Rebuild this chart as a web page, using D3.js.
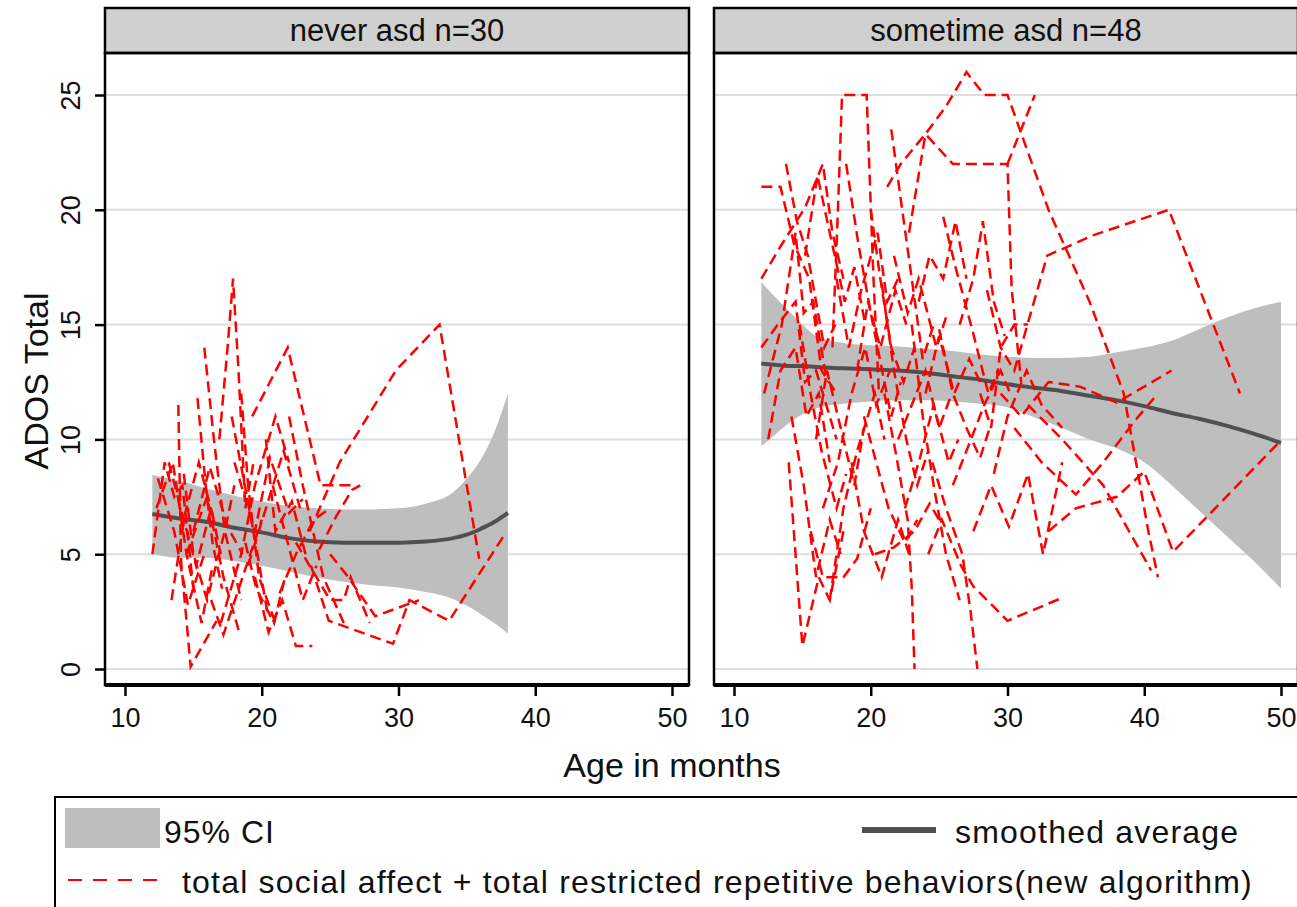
<!DOCTYPE html>
<html>
<head>
<meta charset="utf-8">
<script src="https://cdn.jsdelivr.net/npm/d3@7"></script>
<style>
  body { margin: 0; background: #fff; }
  svg { display: block; font-family: "Liberation Sans", Arial, sans-serif; }
</style>
</head>
<body>
<svg id="chart" width="1297" height="907"></svg>
<script>
// ---- data ----
var panelNames = ["never asd n=30", "sometime asd n=48"];
var ageTicks = [10, 20, 30, 40, 50];
var scoreTicks = [0, 5, 10, 15, 20, 25];

// smoothed average and 95% CI, never asd
var neverAge  = [12, 14, 16, 18, 20, 22, 24, 26, 28, 30, 32, 34, 35, 36, 37, 38];
var neverMean = [6.75, 6.55, 6.4, 6.15, 5.95, 5.7, 5.55, 5.5, 5.5, 5.5, 5.55, 5.7, 5.85, 6.1, 6.4, 6.8];
var neverHi   = [8.45, 8.2, 7.85, 7.55, 7.3, 7.1, 7.0, 6.95, 6.95, 7.0, 7.2, 7.7, 8.3, 9.1, 10.3, 12.0];
var neverLo   = [5.0, 4.85, 4.85, 4.7, 4.5, 4.25, 4.0, 3.8, 3.65, 3.55, 3.35, 3.05, 2.75, 2.4, 2.0, 1.55];

// smoothed average and 95% CI, sometime asd
var someAge  = [12, 13, 14, 15, 16, 18, 20, 22, 24, 26, 28, 30, 32, 34, 36, 38, 40, 42, 44, 46, 48, 50];
var someMean = [13.3, 13.25, 13.2, 13.2, 13.15, 13.1, 13.05, 13.0, 12.9, 12.75, 12.6, 12.4, 12.25, 12.1, 11.9, 11.7, 11.45, 11.15, 10.9, 10.6, 10.25, 9.85];
var someHi   = [16.85, 16.2, 15.6, 15.0, 14.5, 14.2, 14.1, 14.05, 13.95, 13.85, 13.7, 13.6, 13.55, 13.55, 13.6, 13.8, 14.0, 14.3, 14.8, 15.3, 15.7, 16.0];
var someLo   = [9.7, 10.2, 10.7, 11.1, 11.35, 11.55, 11.65, 11.7, 11.7, 11.65, 11.55, 11.4, 10.95, 10.5, 10.0, 9.6, 9.0, 8.0, 6.9, 5.8, 4.7, 3.5];

// individual trajectories [age, score], never asd
var neverKids = [
  [[12,5],[12.9,9],[13.6,7.5],[14.2,8],[15,3.5]],
  [[12.3,7],[13.5,9],[14.5,5],[15.6,2],[16.4,4.5]],
  [[13.2,9],[14.3,6.5],[15.2,4.5],[16.3,7],[17,5]],
  [[13.9,11.5],[14.1,4.7],[14.8,0.1],[16.7,2.1]],
  [[14.3,8.5],[15,5],[16,3],[17.3,6],[18,8]],
  [[15.8,14],[16.5,10],[17.3,6],[18.5,3]],
  [[16.9,10],[17.5,14],[17.9,17],[18.3,13],[18.8,7],[19.4,9]],
  [[18.5,12],[19,8],[19.8,4],[21,2]],
  [[19.3,11],[21.9,14],[24.3,8],[26.5,8]],
  [[17,2],[18.5,5],[19.5,8],[21,11],[22,9]],
  [[19.5,4],[20.5,1.6],[21.5,3],[22.5,1],[23.7,1]],
  [[14.5,5],[16,7.5],[17.2,4],[18.4,1.5]],
  [[20.3,10],[21,6],[22.2,7.3],[23.2,5]],
  [[22.5,5.5],[25,3],[26,3],[26.5,4],[27.9,2]],
  [[23.6,4.5],[24.9,2.1],[29.6,1.1],[30.8,3.0],[33.7,2.1],[37.8,5.9]],
  [[23.5,6],[25.7,9],[29.8,13],[33,15],[35.9,4.8]],
  [[18,9],[19.5,6],[20.6,9.2],[22,6.8],[23,7.4]],
  [[15,6],[16.2,8.8],[17.5,6.2],[18.6,5]],
  [[12.4,8.3],[13.6,6],[14.6,2.8],[15.8,5]],
  [[16.3,3],[17.2,1.5],[18.6,4],[20,6.5]],
  [[20.8,8],[21.9,5.5],[23,3],[24,4.5]],
  [[21.3,3.3],[22.5,5],[23.8,6.5],[25,7]],
  [[24.2,5.2],[25.4,6.6],[26.6,7.8],[27.2,8]],
  [[17.8,11],[18.6,8.5],[19.4,6],[20.4,2.5]],
  [[13.4,3],[14.4,6.8],[15.4,9],[16.5,6.5]],
  [[19,4.5],[20.1,6.6],[21.6,9.5],[22.8,7]],
  [[22,11],[23,8],[24.5,4],[26,2]],
  [[15.3,11.8],[15.9,8],[16.4,5.5],[17.1,3.5]],
  [[18.8,5.5],[19.6,3.5],[20.9,2],[21.7,4]],
  [[25,5],[26.2,4.1],[28.3,2.3],[31.5,3]]
];

// individual trajectories [age, score], sometime asd
var someKids = [
  [[12,21],[13.4,21],[14.4,18.5],[15.5,17],[16.4,13],[17.5,12]],
  [[12,17],[13.5,18.5],[15.2,20.1],[16.5,22],[17.2,19],[18,17]],
  [[12,14],[13.2,15],[14.5,16],[15.2,12.5],[16,13],[17.5,10]],
  [[12.2,12],[13.5,15],[14.5,19],[15.1,15.5],[15.8,16],[16.8,12.5]],
  [[13.8,22],[14.6,19.5],[15.4,18],[16,16],[16.6,14],[17.4,15]],
  [[14,9],[14.5,5],[15,1],[16.2,4],[17,3],[18,6]],
  [[14.2,11],[15.1,8],[16,4],[17,6.5],[17.8,5]],
  [[14.8,15],[15.6,12],[16.4,9.5],[17.5,7],[18.2,8.5]],
  [[15.2,18],[16.1,21.5],[17,19],[18.1,16],[18.8,17.5],[19.6,15]],
  [[15.6,6],[16.5,4],[18,4],[19,4.8],[20,7]],
  [[16,10],[16.8,13],[17.6,11],[18.8,8],[19.5,10.5]],
  [[17.2,14],[17.6,20],[17.9,25],[19.7,25],[20.2,17],[20.6,12]],
  [[17,3],[18,7],[19,9.5],[20.3,12],[21,10]],
  [[17.5,17],[18.4,14],[19.3,16.5],[20.5,19],[21.2,16],[22,17]],
  [[18.2,22],[19.1,18.5],[20,15.5],[21.5,11],[22.2,12.5]],
  [[18.6,9],[19.5,6],[20.8,4],[22,6.5],[22.8,5]],
  [[19,13],[19.8,16],[20.7,14],[21.8,16.5],[22.6,15]],
  [[19.5,11],[20.4,9],[21.3,7],[22.5,5.5],[23.4,6.5]],
  [[20,20],[20.7,17],[21.5,14],[22.4,12.5],[23.2,14]],
  [[20.3,5],[21.7,5.3],[23.2,6],[24.3,7.2],[25,6.5]],
  [[20.8,16.8],[21.7,13],[22.6,10],[23.4,8],[24.2,9.5]],
  [[21,12],[21.8,9.5],[22.7,6.5],[23,3.5],[23.2,0]],
  [[21.5,23.5],[22.3,20],[23,17],[23.8,13.5],[24.6,15]],
  [[21.7,18],[22.7,15.5],[23.5,17],[24.8,14],[25.6,15.5]],
  [[22,10],[23,11.5],[24,13],[25,10.5],[25.8,11.8]],
  [[22.5,7],[23.6,9.2],[24.6,11.5],[25.7,9],[26.4,10]],
  [[23,15],[23.8,11],[24.6,8],[25.5,5],[26.5,3]],
  [[21.2,21],[22.2,22],[24,23.3],[26,22],[30,22],[30.3,16.6],[31,12.5]],
  [[22.8,19],[24,23.3],[25.5,24.5],[27,26],[28.3,25],[30,25],[33,20],[36,16],[38.5,12],[40.3,6],[41,4]],
  [[23.5,16],[24.3,18],[25.3,17],[26.2,19.5],[27,17]],
  [[24,12],[25,14.5],[26.1,12],[27.2,13.5],[28,12.5]],
  [[24.2,5],[25.2,6.5],[26.6,4.5],[27.5,3.6],[30,2.1],[34,3.1]],
  [[24.5,9],[25.5,7],[26.7,5],[27.3,2.5],[27.8,0]],
  [[25,14.8],[26,12],[27,10.5],[28,9.2],[28.7,10.5]],
  [[25.3,19.7],[26.2,17.5],[27.5,14.6],[28.6,12],[29.3,13]],
  [[26,8],[27,9.5],[28.3,11.5],[29.5,13],[30.2,12]],
  [[26.5,15],[27.5,17],[28.2,19.5],[29,16],[29.8,14.5]],
  [[27.5,6],[28.8,8],[30.1,6.2],[31.5,8.5],[32.6,5],[34,9]],
  [[28,12],[28.8,10.5],[29.5,14],[30.5,15],[31.5,15]],
  [[29,8.5],[30,11],[31.4,13],[32.5,11.5],[34,10.5]],
  [[30,22],[31,23.5],[32,25]],
  [[28.5,16.5],[29.5,14],[30.5,13],[32.9,18],[36.3,18.9],[41.8,20],[47,12]],
  [[29.5,12],[31,11],[33,12.5],[35.3,12.3],[38,11.6],[42,13]],
  [[30.5,10.5],[32.5,9],[35,7.6],[37,9],[39.3,10.8],[41,12]],
  [[31.5,11.5],[34,10],[37,8],[40.5,4.3]],
  [[33,6],[35,7],[38,7.5],[40,8.6],[42.1,5.1],[49.9,9.9]],
  [[12.5,10],[13.4,13],[14.5,14],[15.3,11],[16.2,12],[17,9]],
  [[16.5,7],[17.6,9],[18.6,12],[19.6,14],[20.4,11.5],[21.4,13]]
];

var panels = [
  {name: panelNames[0], age: neverAge, mean: neverMean, hi: neverHi, lo: neverLo, kids: neverKids, dx: 0},
  {name: panelNames[1], age: someAge, mean: someMean, hi: someHi, lo: someLo, kids: someKids, dx: 609}
];

// ---- layout ----
var svg = d3.select("#chart");
var x = d3.scaleLinear().domain([10, 50]).range([125, 672]);
var y = d3.scaleLinear().domain([0, 25]).range([669, 95]);
var plotL = 105, plotR = 689, plotT = 53, plotB = 685, stripT = 8;

var band = d3.area()
    .x(function(d) { return x(d[0]); })
    .y0(function(d) { return y(d[1]); })
    .y1(function(d) { return y(d[2]); })
    .curve(d3.curveMonotoneX);
var line = d3.line()
    .x(function(d) { return x(d[0]); })
    .y(function(d) { return y(d[1]); });
var smooth = d3.line()
    .x(function(d) { return x(d[0]); })
    .y(function(d) { return y(d[1]); })
    .curve(d3.curveMonotoneX);

panels.forEach(function(p, i) {
  var g = svg.append("g").attr("transform", "translate(" + p.dx + ",0)");

  g.append("clipPath").attr("id", "clip" + i)
    .append("rect").attr("x", plotL).attr("y", plotT)
    .attr("width", plotR - plotL).attr("height", plotB - plotT);

  // gridlines
  g.selectAll(".grid").data(scoreTicks).enter().append("line")
    .attr("x1", plotL).attr("x2", plotR)
    .attr("y1", function(d) { return y(d); }).attr("y2", function(d) { return y(d); })
    .attr("stroke", "#dedede").attr("stroke-width", 2);

  var inner = g.append("g").attr("clip-path", "url(#clip" + i + ")");

  var bandData = p.age.map(function(a, k) { return [a, p.lo[k], p.hi[k]]; });
  inner.append("path").attr("d", band(bandData)).attr("fill", "#bebebe");

  var meanData = p.age.map(function(a, k) { return [a, p.mean[k]]; });
  inner.append("path").attr("d", smooth(meanData))
    .attr("fill", "none").attr("stroke", "#505050").attr("stroke-width", 4);

  inner.selectAll(".kid").data(p.kids).enter().append("path")
    .attr("d", line)
    .attr("fill", "none").attr("stroke", "#ff0000")
    .attr("stroke-width", 2.5).attr("stroke-dasharray", "11,6");

  // strip
  g.append("rect").attr("x", plotL).attr("y", stripT)
    .attr("width", plotR - plotL).attr("height", plotT - stripT)
    .attr("fill", "#d0d0d0").attr("stroke", "#000").attr("stroke-width", 2.5);
  g.append("text").attr("x", (plotL + plotR) / 2).attr("y", 41)
    .attr("text-anchor", "middle").attr("font-size", 31).attr("fill", "#111")
    .text(p.name);

  // frame
  g.append("rect").attr("x", plotL).attr("y", plotT)
    .attr("width", plotR - plotL).attr("height", plotB - plotT)
    .attr("fill", "none").attr("stroke", "#000").attr("stroke-width", 2.5);
  g.append("line").attr("x1", plotL).attr("x2", plotR)
    .attr("y1", plotB).attr("y2", plotB)
    .attr("stroke", "#000").attr("stroke-width", 4);

  // x axis
  var xa = g.append("g").attr("transform", "translate(0," + plotB + ")")
    .call(d3.axisBottom(x).tickValues(ageTicks).tickSize(11).tickPadding(12).tickFormat(d3.format("d")));
  xa.select(".domain").remove();
  xa.selectAll(".tick line").attr("stroke", "#000").attr("stroke-width", 2.5);
  xa.selectAll(".tick text").attr("font-size", 27).attr("fill", "#111")
    .attr("font-family", "Liberation Sans, Arial, sans-serif");

  // y axis (labels only on the first panel)
  var ya = g.append("g").attr("transform", "translate(" + plotL + ",0)")
    .call(d3.axisLeft(y).tickValues(scoreTicks).tickSize(i === 0 ? 10 : 0).tickFormat(i === 0 ? d3.format("d") : ""));
  ya.select(".domain").remove();
  ya.selectAll(".tick line").attr("stroke", "#000").attr("stroke-width", 2.5);
  ya.selectAll(".tick text")
    .attr("font-size", 27).attr("fill", "#111")
    .attr("font-family", "Liberation Sans, Arial, sans-serif")
    .attr("text-anchor", "middle")
    .attr("x", null).attr("dy", null)
    .attr("transform", "translate(-25,0) rotate(-90)");
});

// axis titles
svg.append("text").attr("x", 672).attr("y", 777)
  .attr("text-anchor", "middle").attr("font-size", 34).attr("fill", "#111")
  .text("Age in months");
svg.append("text").attr("transform", "translate(48,381) rotate(-90)")
  .attr("text-anchor", "middle").attr("font-size", 34).attr("fill", "#111")
  .text("ADOS Total");

// legend
var lg = svg.append("g");
lg.append("rect").attr("x", 55).attr("y", 797).attr("width", 1270).attr("height", 140)
  .attr("fill", "#fff").attr("stroke", "#000").attr("stroke-width", 2);
lg.append("rect").attr("x", 65).attr("y", 808).attr("width", 95).attr("height", 40)
  .attr("fill", "#bebebe");
lg.append("text").attr("x", 164).attr("y", 843).attr("font-size", 32).attr("fill", "#111")
  .attr("letter-spacing", 1)
  .text("95% CI");
lg.append("line").attr("x1", 862).attr("x2", 936).attr("y1", 830).attr("y2", 830)
  .attr("stroke", "#505050").attr("stroke-width", 6);
lg.append("text").attr("x", 955).attr("y", 843).attr("font-size", 32).attr("fill", "#111")
  .attr("letter-spacing", 1.2)
  .text("smoothed average");
lg.append("line").attr("x1", 68).attr("x2", 162).attr("y1", 880).attr("y2", 880)
  .attr("stroke", "#ff0000").attr("stroke-width", 2).attr("stroke-dasharray", "14,11");
lg.append("text").attr("x", 182).attr("y", 893).attr("font-size", 32).attr("fill", "#111")
  .attr("letter-spacing", 1.2)
  .text("total social affect + total restricted repetitive behaviors(new algorithm)");
</script>
</body>
</html>
